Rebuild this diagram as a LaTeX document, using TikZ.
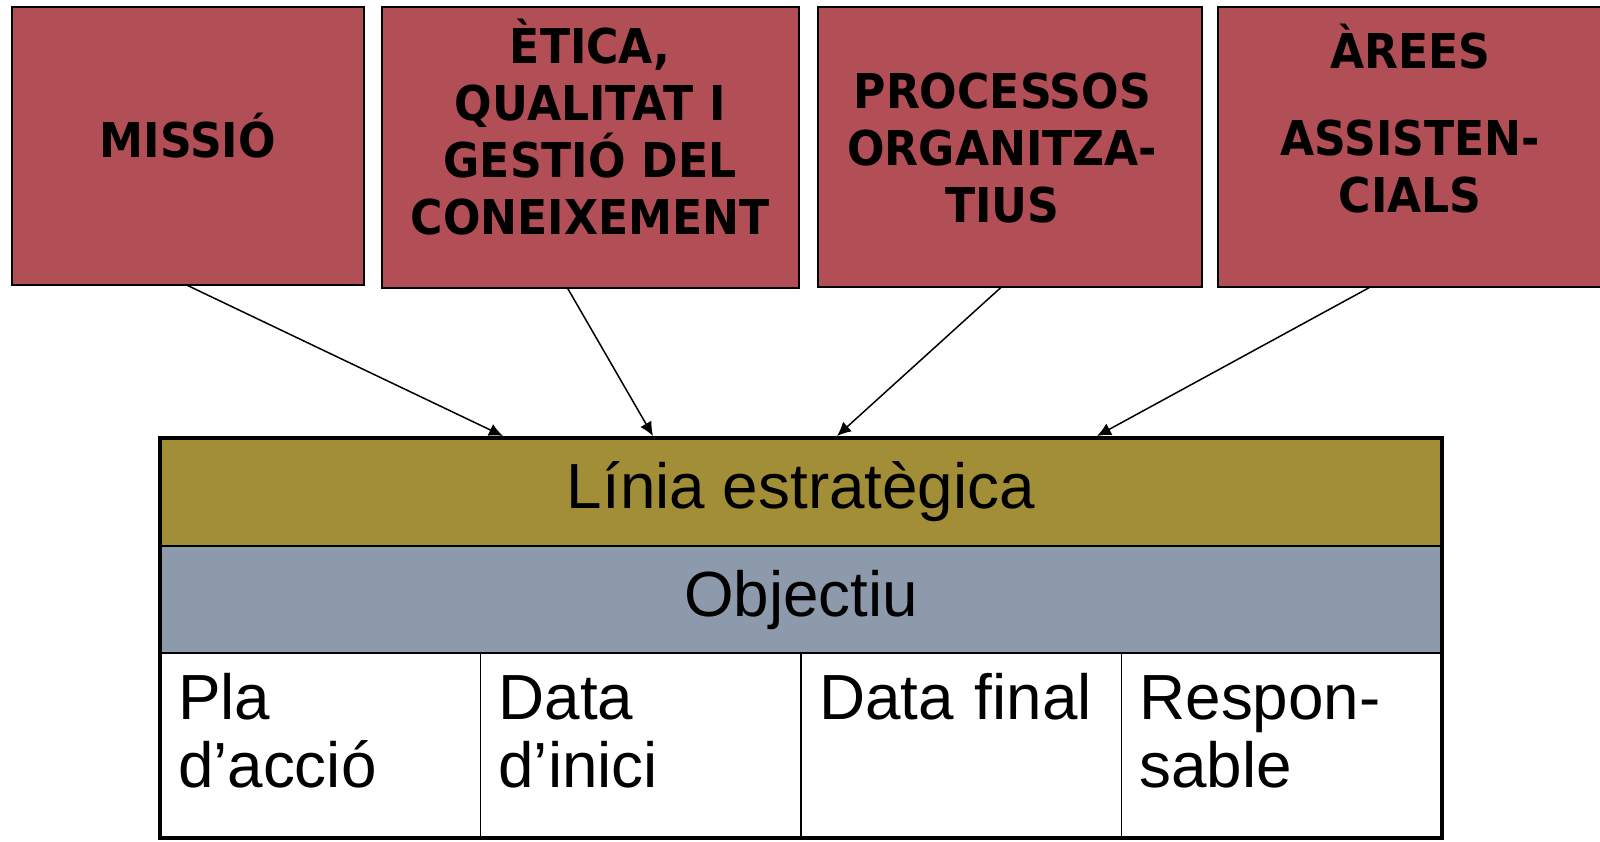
\documentclass[tikz,border=0pt]{standalone}
\usepackage{fontspec}
\newfontfamily\boxfont[FakeStretch=0.92]{DejaVu Sans}
\newfontfamily\tablefont{Liberation Sans}
\usetikzlibrary{arrows.meta,positioning,calc}
\definecolor{boxred}{HTML}{B24E55}
\definecolor{lineolive}{HTML}{A28E37}
\definecolor{objgrey}{HTML}{8D9AAB}

\begin{document}
\begin{tikzpicture}[
    topbox/.style={draw,fill=boxred,line width=0.9pt,inner sep=0pt,anchor=north west,align=center,
        font=\boxfont\bfseries\fontsize{27.3}{32.4}\selectfont},
    band/.style={draw,line width=1.2pt,inner sep=0pt,outer sep=0pt,minimum width=25.64cm,
        font=\tablefont\fontsize{36.3}{39.1}\selectfont},
    cell/.style={draw,line width=1.1pt,inner xsep=0.36cm,inner ysep=0pt,outer sep=0pt,text width=5.69cm,align=left,
        text height=1.32cm,text depth=2.38cm,font=\tablefont\fontsize{36.3}{39.1}\selectfont},
    ->/.style={-{Latex[length=0.28cm,width=0.26cm]},line width=0.85pt},
    frame/.style={line width=2.8pt},
]
\useasboundingbox (0,0) rectangle (32,-16.82);

% top boxes
\node[topbox,text width=7.04cm,text height=3.02cm,text depth=2.54cm] (missio) at (0.22,-0.12) {MISSIÓ};
\node[topbox,text width=8.34cm,text height=1.14cm,text depth=4.48cm] (etica) at (7.62,-0.12) {ÈTICA,\\QUALITAT I\\GESTIÓ DEL\\CONEIXEMENT};
\node[topbox,text width=7.68cm,text height=2.04cm,text depth=3.56cm] (processos) at (16.34,-0.12) {PROCESSOS\kern0.3cm\\ORGANITZA-\kern0.3cm\\TIUS\kern0.3cm};
\node[topbox,text width=7.70cm,text height=1.24cm,text depth=4.36cm] (arees) at (24.34,-0.12) {ÀREES\\[0.6cm]ASSISTEN-\\CIALS};

% table
\node[band,fill=lineolive,minimum height=2.16cm,anchor=north west] (linia) at (3.20,-8.76) {Línia estratègica};
\node[band,fill=objgrey,minimum height=2.14cm,below=0pt of linia] (objectiu) {Objectiu};
\node[cell,anchor=north west] (pla) at (objectiu.south west) {Pla\\d’acció};
\node[cell,right=0pt of pla] (inici) {Data\\d’inici};
\node[cell,right=0pt of inici] (final) {Data final};
\node[cell,right=0pt of final] (resp) {Respon-\\sable};
\draw[frame] (linia.north west) rectangle (resp.south east);

% arrows
\coordinate (in1) at (10.06,-8.72);
\coordinate (in2) at (13.06,-8.72);
\coordinate (in3) at (16.74,-8.72);
\coordinate (in4) at (21.94,-8.72);

\draw[->] (missio.south) -- (in1);
\draw[->] ($(etica.south)+(-0.45,0)$) -- (in2);
\draw[->] ($(processos.south)+(-0.18,0)$) -- (in3);
\draw[->] ($(arees.south)+(-0.82,0)$) -- (in4);

\end{tikzpicture}
\end{document}
